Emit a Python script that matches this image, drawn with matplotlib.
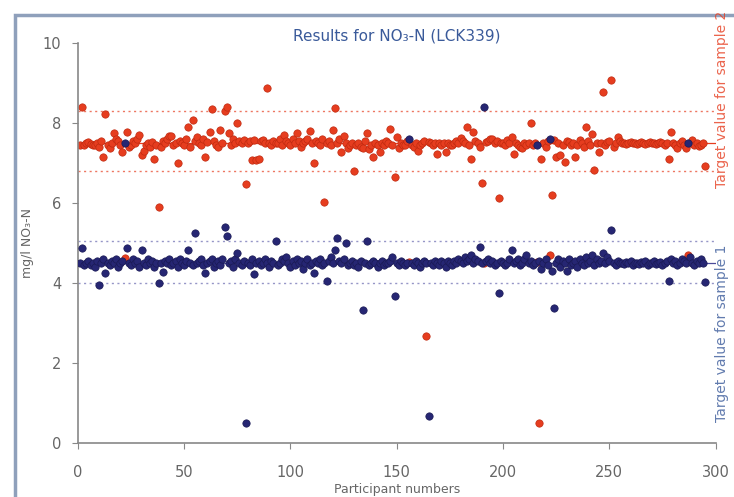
import numpy as np
import matplotlib.pyplot as plt
from matplotlib.patches import Rectangle

# participant numbers 1..295
participants = np.arange(1, 296)

# sample 2 results (red), mg/l NO3-N
sample2 = [
    7.45, 8.4, 7.45, 7.5, 7.52, 7.48, 7.45, 7.45, 7.5, 7.4,
    7.55, 7.15, 8.22, 7.45, 7.38, 7.5, 7.75, 7.6, 7.55, 7.45,
    7.28, 4.63, 7.77, 7.4, 7.45, 7.55, 7.5, 7.6, 7.7, 7.2,
    7.3, 7.45, 7.5, 7.4, 7.52, 7.1, 7.45, 5.9, 7.4, 7.55,
    7.5, 7.6, 7.68, 7.68, 7.45, 7.5, 7.0, 7.55, 7.5, 7.45,
    7.6, 7.9, 7.4, 8.07, 7.55, 7.65, 7.5, 7.45, 7.6, 7.15,
    7.52, 7.77, 8.35, 7.55, 7.45, 7.4, 7.82, 7.5, 8.3, 8.4,
    7.75, 7.45, 7.6, 7.5, 8.0, 7.55, 7.5, 7.58, 6.48, 7.5,
    7.55, 7.08, 7.57, 7.08, 7.1, 7.55, 7.57, 7.5, 8.87, 7.5,
    7.45, 7.55, 7.5, 7.5, 7.6, 7.45, 7.7, 7.55, 7.5, 7.45,
    7.6, 7.5, 7.75, 7.55, 7.4, 7.5, 7.55, 7.6, 7.8, 7.5,
    7.0, 7.55, 7.5, 7.45, 7.6, 6.02, 7.5, 7.55, 7.45, 7.82,
    8.37, 7.5, 7.6, 7.27, 7.68, 7.5, 7.38, 7.45, 7.5, 6.8,
    7.45, 7.5, 7.4, 7.38, 7.55, 7.75, 7.35, 7.45, 7.15, 7.5,
    7.45, 7.27, 7.5, 7.45, 7.55, 7.5, 7.85, 7.45, 6.65, 7.65,
    7.37, 7.5, 7.45, 7.45, 7.55, 4.53, 7.45, 7.4, 7.5, 7.3,
    7.45, 7.5, 7.55, 2.68, 7.52, 7.5, 7.45, 7.5, 7.23, 7.5,
    7.45, 7.5, 7.28, 7.5, 7.45, 7.45, 7.5, 7.55, 7.5, 7.62,
    7.55, 7.5, 7.9, 7.45, 7.1, 7.78, 7.55, 7.5, 7.4, 6.5,
    4.5, 7.52, 7.55, 7.6, 7.6, 7.5, 7.55, 6.13, 7.5, 7.5,
    7.45, 7.57, 7.5, 7.65, 7.22, 7.5, 7.45, 7.4, 7.38, 7.5,
    7.45, 7.5, 8.0, 7.45, 7.5, 4.53, 0.5, 7.1, 7.5, 7.4,
    7.55, 4.7, 6.2, 7.57, 7.15, 7.5, 7.2, 7.45, 7.02, 7.55,
    7.52, 7.45, 7.5, 7.15, 7.45, 7.57, 7.5, 7.4, 7.9, 7.55,
    7.45, 7.72, 6.83, 7.5, 7.27, 7.5, 8.78, 7.45, 7.52, 7.55,
    9.08, 7.4, 7.5, 7.65, 7.55, 7.5, 7.5, 7.48, 7.5, 7.52,
    7.5, 7.5, 7.48, 7.5, 7.52, 7.5, 7.48, 7.5, 7.52, 7.5,
    7.5, 7.48, 7.5, 7.52, 7.5, 7.45, 7.5, 7.1, 7.77, 7.5,
    7.45, 7.38, 7.5, 7.55, 7.45, 7.38, 4.7, 7.5, 7.57, 7.45,
    7.5, 7.43, 7.45, 7.5, 6.93,
]

# sample 1 results (blue), mg/l NO3-N
sample1 = [
    4.5, 4.88, 4.45, 4.5, 4.55, 4.45, 4.5, 4.4, 4.55, 3.95,
    4.5, 4.6, 4.25, 4.5, 4.45, 4.55, 4.5, 4.6, 4.4, 4.5,
    4.55, 7.5, 4.88, 4.5, 4.45, 4.6, 4.5, 4.55, 4.4, 4.83,
    4.5, 4.45, 4.6, 4.5, 4.55, 4.4, 4.5, 4.0, 4.5, 4.28,
    4.55, 4.5, 4.6, 4.45, 4.5, 4.55, 4.4, 4.6, 4.5, 4.45,
    4.55, 4.83, 4.5, 4.45, 5.25, 4.5, 4.55, 4.6, 4.45, 4.25,
    4.5, 4.55, 4.6, 4.4, 4.5, 4.55, 4.45, 4.6, 5.4, 5.18,
    4.5, 4.55, 4.4, 4.6, 4.75, 4.5, 4.45, 4.55, 0.5, 4.5,
    4.45, 4.6, 4.22, 4.5, 4.55, 4.45, 4.5, 4.6, 4.5, 4.4,
    4.55, 4.5, 5.05, 4.45, 4.5, 4.6, 4.55, 4.65, 4.5, 4.4,
    4.55, 4.45, 4.6, 4.5, 4.55, 4.35, 4.5, 4.6, 4.45, 4.5,
    4.25, 4.55, 4.5, 4.6, 4.45, 4.5, 4.06, 4.55, 4.65, 4.5,
    4.83, 5.13, 4.55, 4.5, 4.6, 5.0, 4.45, 4.5, 4.55, 4.45,
    4.5, 4.4, 4.55, 3.33, 4.5, 5.05, 4.45, 4.5, 4.55, 4.5,
    4.4, 4.5, 4.55, 4.45, 4.5, 4.5, 4.55, 4.65, 3.68, 4.5,
    4.45, 4.55, 4.5, 4.45, 4.5, 7.6, 4.5, 4.45, 4.55, 4.5,
    4.4, 4.5, 4.55, 4.5, 0.68, 4.5, 4.45, 4.55, 4.5, 4.45,
    4.55, 4.5, 4.4, 4.55, 4.5, 4.45, 4.55, 4.5, 4.6, 4.55,
    4.5, 4.65, 4.55, 4.6, 4.7, 4.5, 4.6, 4.55, 4.9, 4.5,
    8.4, 4.55, 4.6, 4.5, 4.55, 4.45, 4.5, 3.75, 4.55, 4.5,
    4.45, 4.5, 4.6, 4.83, 4.5, 4.55, 4.6, 4.45, 4.5, 4.6,
    4.7, 4.5, 4.55, 4.45, 4.5, 7.45, 4.55, 4.35, 4.5, 4.6,
    4.45, 7.6, 4.3, 3.37, 4.5, 4.6, 4.4, 4.55, 4.5, 4.3,
    4.6, 4.45, 4.5, 4.55, 4.4, 4.6, 4.5, 4.45, 4.65, 4.5,
    4.55, 4.7, 4.45, 4.6, 4.5, 4.55, 4.75, 4.5, 4.65, 4.55,
    5.33, 4.5, 4.45, 4.55, 4.5, 4.5, 4.48, 4.52, 4.5, 4.55,
    4.45, 4.5, 4.5, 4.48, 4.52, 4.5, 4.55, 4.45, 4.5, 4.5,
    4.55, 4.48, 4.5, 4.52, 4.45, 4.5, 4.55, 4.05, 4.6, 4.5,
    4.55, 4.45, 4.5, 4.6, 4.55, 4.5, 7.5, 4.65, 4.5, 4.45,
    4.55, 4.5, 4.6, 4.5, 4.02,
]

# target values and tolerance limits
target2, upper2, lower2 = 7.5, 8.3, 6.8
target1, upper1, lower1 = 4.5, 5.05, 4.0

red = '#e63d1f'
navy = '#262673'
grey = '#666666'

fig = plt.figure(figsize=(7.34, 4.97), dpi=100)
ax = fig.add_axes([0.106, 0.109, 0.869, 0.804])

# tolerance and target lines
ax.axhline(target2, color=red, lw=0.9, zorder=1)
ax.axhline(upper2, color=red, lw=1.0, ls=(0, (1.5, 2.5)), alpha=0.7, zorder=1)
ax.axhline(lower2, color=red, lw=1.0, ls=(0, (1.5, 2.5)), alpha=0.7, zorder=1)
ax.axhline(target1, color='#4a4a9a', lw=0.9, zorder=1)
ax.axhline(upper1, color='#6a6ab0', lw=1.0, ls=(0, (1.5, 2.5)), alpha=0.7, zorder=1)
ax.axhline(lower1, color='#6a6ab0', lw=1.0, ls=(0, (1.5, 2.5)), alpha=0.7, zorder=1)

ax.scatter(participants, sample2, s=28, color=red, edgecolors='#c02a10',
           linewidths=0.5, zorder=2)
ax.scatter(participants, sample1, s=28, color=navy, edgecolors='#1a1a55',
           linewidths=0.5, zorder=3)

ax.set_xlim(0, 300)
ax.set_ylim(0, 10)
ax.set_xticks(range(0, 301, 50))
ax.set_yticks(range(0, 11, 2))
for s in ['top', 'right']:
    ax.spines[s].set_visible(False)
for s in ['left', 'bottom']:
    ax.spines[s].set_color('#888888')
    ax.spines[s].set_linewidth(1.2)
ax.tick_params(colors='#888888', labelcolor=grey, labelsize=10.5, length=4)
ax.tick_params(axis='x', pad=12)
ax.tick_params(axis='y', pad=8)

ax.set_title('Results for NO₃-N (LCK339)', color='#3a5a9a', fontsize=11, pad=-6)
ax.set_ylabel('mg/l NO₃-N', color=grey, fontsize=9, labelpad=6)
ax.set_xlabel('Participant numbers', color=grey, fontsize=9, labelpad=2)

fig.text(0.983, 0.80, 'Target value for sample 2', rotation=90, color=red,
         fontsize=10, ha='center', va='center', alpha=0.8)
fig.text(0.983, 0.33, 'Target value for sample 1', rotation=90, color='#3a5a9a',
         fontsize=10, ha='center', va='center', alpha=0.8)

# outer frame of the chart
fig.patches.append(Rectangle((0.021, -0.05), 1.1, 1.02, transform=fig.transFigure,
                             fill=False, edgecolor='#8fa0bb', lw=2.5))

fig.savefig('out.png', dpi=100)
